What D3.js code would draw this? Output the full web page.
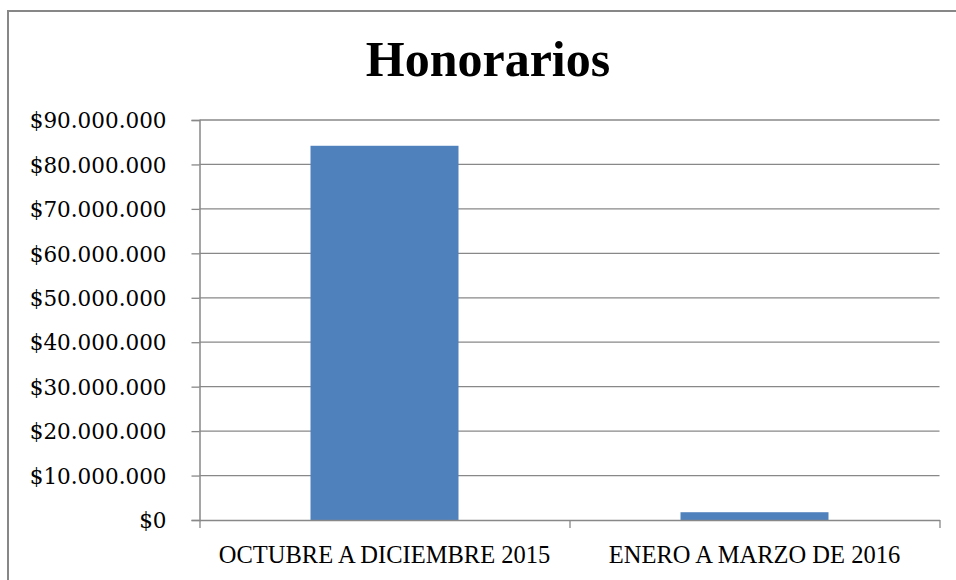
<!DOCTYPE html>
<html>
<head>
<meta charset="utf-8">
<script src="https://cdn.jsdelivr.net/npm/d3@7"></script>
<style>
  body { margin: 0; background: #fff; }
  svg { display: block; }
</style>
</head>
<body>
<svg id="chart" width="956" height="580"></svg>
<script>
// data
const categories = ["OCTUBRE A DICIEMBRE 2015", "ENERO A MARZO DE 2016"];
const values = [84200000, 1750000];
const yTicks = [0, 10e6, 20e6, 30e6, 40e6, 50e6, 60e6, 70e6, 80e6, 90e6];
const title = "Honorarios";

const svg = d3.select("#chart");
const plotLeft = 199.5, plotRight = 939.5, plotTop = 120, plotBottom = 520;

const locale = d3.formatLocale({ decimal: ",", thousands: ".", grouping: [3], currency: ["$", ""] });
const fmt = locale.format("$,");

// outer frame (runs off the right/bottom edge like the source)
svg.append("rect")
  .attr("x", 8).attr("y", 11)
  .attr("width", 1200).attr("height", 1200)
  .attr("fill", "none")
  .attr("stroke", "#878787")
  .attr("stroke-width", 2);

svg.append("text")
  .attr("x", 488).attr("y", 76)
  .attr("text-anchor", "middle")
  .style("font-family", "'Liberation Serif', serif")
  .style("font-weight", "bold")
  .style("font-size", "50px")
  .text(title);

const y = d3.scaleLinear().domain([0, 90e6]).range([plotBottom, plotTop]);
const x = d3.scaleBand().domain(categories).range([plotLeft, plotRight])
  .paddingInner(0.6).paddingOuter(0.3);
const xEdge = d3.scaleLinear().domain([0, categories.length]).range([plotLeft, plotRight]);

// gridlines
svg.append("g")
  .selectAll("line")
  .data(yTicks.filter((d) => d > 0))
  .join("line")
  .attr("x1", plotLeft).attr("x2", plotRight)
  .attr("y1", (d) => y(d)).attr("y2", (d) => y(d))
  .attr("stroke", "#888")
  .attr("stroke-width", 1.3);

// bars
svg.append("g")
  .selectAll("rect")
  .data(categories)
  .join("rect")
  .attr("x", (d) => x(d))
  .attr("width", x.bandwidth())
  .attr("y", (d, i) => y(values[i]))
  .attr("height", (d, i) => plotBottom - y(values[i]))
  .attr("fill", "#4F81BD");

// y axis
const yAxis = svg.append("g")
  .attr("transform", `translate(${plotLeft},0)`)
  .call(d3.axisLeft(y).tickValues(yTicks).tickFormat(fmt).tickSize(8).tickPadding(25));
yAxis.select(".domain").attr("stroke", "#888").attr("stroke-width", 1.5);
yAxis.selectAll(".tick line").attr("stroke", "#888").attr("stroke-width", 1.3);
yAxis.selectAll(".tick text")
  .attr("fill", "#000")
  .attr("dy", "0.36em")
  .style("font-family", "'DejaVu Serif', serif")
  .style("font-size", "21.5px");

// x axis: category boundary ticks
const xAxis = svg.append("g")
  .attr("transform", `translate(0,${plotBottom})`)
  .call(d3.axisBottom(xEdge).tickValues(d3.range(categories.length + 1)).tickFormat("").tickSize(8).tickSizeOuter(0));
xAxis.select(".domain").attr("stroke", "#888").attr("stroke-width", 1.5);
xAxis.selectAll(".tick line").attr("stroke", "#888").attr("stroke-width", 1.3);

svg.append("g")
  .selectAll("text")
  .data(categories)
  .join("text")
  .attr("x", (d) => x(d) + x.bandwidth() / 2)
  .attr("y", 563)
  .attr("text-anchor", "middle")
  .style("font-family", "'Liberation Serif', serif")
  .style("font-size", "24.5px")
  .text((d) => d);
</script>
</body>
</html>
